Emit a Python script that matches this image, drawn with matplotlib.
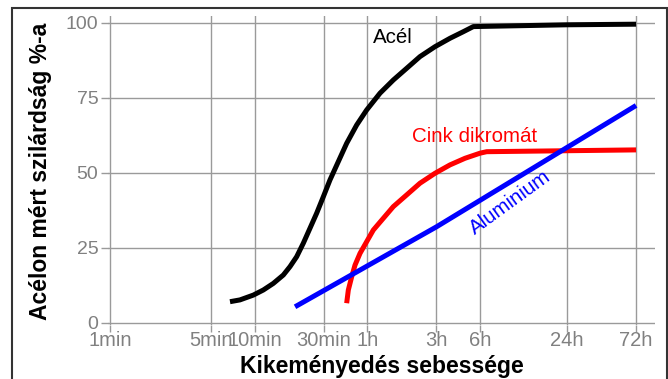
import matplotlib
matplotlib.use("Agg")
import matplotlib.pyplot as plt
from matplotlib.patches import Rectangle

plt.rcParams["font.family"] = ["Liberation Sans", "DejaVu Sans"]

# Curing time in minutes, strength as % of steel
tick_minutes = [1, 5, 10, 30, 60, 180, 360, 1440, 4320]
tick_labels = ["1min", "5min", "10min", "30min", "1h", "3h", "6h", "24h", "72h"]
y_ticks = [0, 25, 50, 75, 100]

steel_t = [6.75, 7.91, 9.78, 11.47, 13.45, 15.77, 17.54, 19.50, 21.68, 24.11,
           26.81, 29.81, 33.14, 37.84, 43.21, 50.67, 59.39, 73.44, 90.8, 112.3,
           138.8, 176.2, 223.7, 276.6, 324.2, 1440, 4320]
steel_v = [7.1, 7.7, 9.3, 11.0, 13.2, 16.0, 18.8, 22.1, 26.6, 31.6,
           36.6, 42.1, 47.7, 53.8, 59.9, 66.0, 71.0, 76.6, 81.0, 84.9,
           88.8, 92.1, 94.9, 97.1, 98.8, 99.4, 99.6]

zinc_t = [43.21, 44.37, 46.80, 49.35, 53.42, 59.39, 66.05, 77.42, 90.8, 112.3,
          138.8, 176.2, 223.7, 284.0, 360.6, 401, 4320]
zinc_v = [6.6, 11.0, 15.4, 19.3, 23.2, 27.1, 31.0, 34.9, 38.8, 42.7,
          46.6, 49.9, 52.7, 54.9, 56.6, 57.1, 57.7]

alu_t = [19, 181, 4320]
alu_v = [5.4, 32.1, 72.5]

fig = plt.figure(figsize=(6.68, 3.79), dpi=100)
ax = fig.add_axes([108 / 668, 1 - 325 / 379, 547 / 668, 309 / 379])
ax.set_xscale("log")
ax.set_xlim(0.9687, 5840)
ax.set_ylim(-0.667, 102.33)

grid_col = "#9a9a9a"
ax.set_xticks(tick_minutes)
ax.set_xticklabels(tick_labels)
ax.xaxis.set_minor_locator(matplotlib.ticker.NullLocator())
ax.set_yticks(y_ticks)
ax.grid(True, color=grid_col, lw=1.0)
ax.set_axisbelow(True)
for s in ax.spines.values():
    s.set_visible(False)
ax.tick_params(axis="x", length=5, color=grid_col, width=1.0, pad=-1,
               labelsize=14.5, labelcolor="#808080")
ax.tick_params(axis="y", length=5, color=grid_col, width=1.0, pad=2,
               labelsize=14, labelcolor="#808080")

lw = 3.6
style = dict(lw=lw, solid_capstyle="butt", solid_joinstyle="round")
ax.plot(steel_t, steel_v, color="black", **style)
ax.plot(zinc_t, zinc_v, color="#ff0000", **style)
ax.plot(alu_t, alu_v, color="#0000ff", **style)

ax.text(90.3, 93.3, "Acél", color="black", fontsize=14.8, ha="center", va="baseline")
ax.text(333, 60.3, "Cink dikromát", color="#ff0000", fontsize=14.8,
        ha="center", va="baseline")
ax.text(581, 40, "Aluminium", color="#0000ff", fontsize=14.8, ha="center",
        va="center", rotation=36, rotation_mode="anchor")

fig.text(41 / 668, 1 - 171 / 379, "Acélon mért szilárdság %-a", rotation=90,
         fontsize=16.5, fontweight="bold", ha="center", va="center")
fig.text(382 / 668, 1 - 367 / 379, "Kikeményedés sebessége",
         fontsize=16.5, fontweight="bold", ha="center", va="center")

fig.patches.append(Rectangle((12 / 668, -0.05), 654.5 / 668, 1 - 8 / 379 + 0.05,
                             transform=fig.transFigure, fill=False,
                             edgecolor="#333333", lw=1.5, clip_on=False))

fig.savefig("out.png", dpi=100, facecolor="white")
